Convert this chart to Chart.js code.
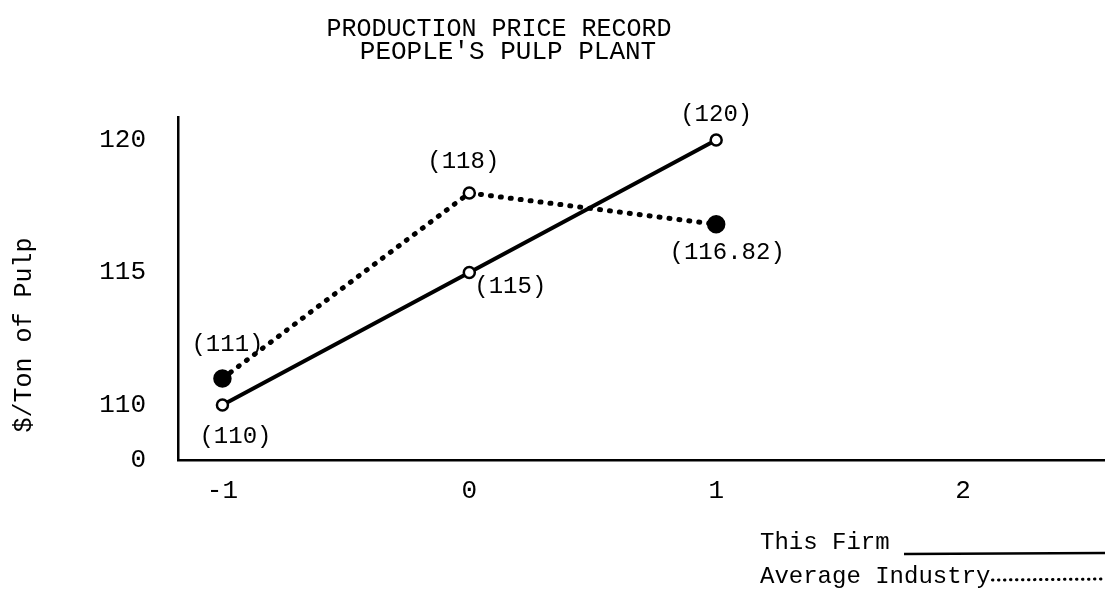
<!DOCTYPE html>
<html>
<head>
<meta charset="utf-8">
<script src="https://cdn.jsdelivr.net/npm/chart.js@4.4.1/dist/chart.umd.min.js"></script>
<style>
    html, body { margin: 0; padding: 0; background: #fff; }
    #wrap { width: 1105px; height: 604px; position: relative; }
</style>
</head>
<body>
<div id="wrap"><canvas id="chart" width="1105" height="604"></canvas></div>
<script>
// Data
const years = [-1, 0, 1];
const thisFirm = [110, 115, 120];
const avgIndustry = [111, 118, 116.82];
const firmLabels = ['(110)', '(115)', '(120)'];
const industryLabels = ['(111)', '(118)', '(116.82)'];
const xTicks = [-1, 0, 1, 2];
const yTicks = [110, 115, 120];
const yBreakLabel = '0';
const titleLines = ['PRODUCTION PRICE RECORD', "PEOPLE'S PULP PLANT"];
const yTitle = '$/Ton of Pulp';
const seriesNames = ['This Firm', 'Average Industry'];

// Axis ranges (the y axis is broken: bottom edge is labelled 0)
const Y_MIN = 107.92;
const Y_MAX = 120.87;
const X_MIN = -1.18;
const X_MAX = 2.575;

const FONT = '"Liberation Mono", "DejaVu Sans Mono", monospace';
const INK = '#000';

// where each value label sits relative to its point (dx, dy)
const firmLabelOffsets = [[13, 32], [41, 14], [0, -25]];
const industryLabelOffsets = [[5, -34], [-6, -31], [11, 28]];

function toPoints(values) {
    return years.map((x, i) => ({x: x, y: values[i]}));
}

const typewriterPlugin = {
    id: 'typewriter',
    afterDatasetsDraw(chart) {
        const ctx = chart.ctx;
        ctx.save();
        ctx.fillStyle = INK;
        ctx.font = `24px ${FONT}`;
        ctx.textAlign = 'center';
        ctx.textBaseline = 'middle';
        chart.data.datasets.forEach(function (ds, di) {
            let meta = chart.getDatasetMeta(di);
            meta.data.forEach(function (pt, i) {
                let off = ds.valueOffsets[i];
                ctx.fillText(ds.valueLabels[i], pt.x + off[0], pt.y + off[1]);
            });
        });
        ctx.restore();
    },
    afterDraw(chart) {
        const ctx = chart.ctx;
        ctx.save();
        ctx.fillStyle = INK;
        ctx.strokeStyle = INK;

        // title
        ctx.textAlign = 'center';
        ctx.textBaseline = 'middle';
        ctx.font = `25px ${FONT}`;
        ctx.fillText(titleLines[0], 499, 29);
        ctx.font = `26px ${FONT}`;
        ctx.fillText(titleLines[1], 508, 52);

        // y axis title
        ctx.save();
        ctx.translate(24, 335);
        ctx.rotate(-Math.PI / 2);
        ctx.font = `25px ${FONT}`;
        ctx.fillText(yTitle, 0, 0);
        ctx.restore();

        // legend, bottom right
        const ds = chart.data.datasets;
        ctx.font = `24px ${FONT}`;
        ctx.textAlign = 'left';
        ctx.fillText(ds[0].label, 760, 543);
        ctx.fillText(ds[1].label, 760, 577);
        let w0 = ctx.measureText(ds[0].label + ' ').width;
        let w1 = ctx.measureText(ds[1].label).width;

        ctx.lineWidth = 2.5;
        ctx.beginPath();
        ctx.moveTo(760 + w0, 554);
        ctx.lineTo(1105, 553);
        ctx.stroke();

        ctx.lineWidth = 3;
        ctx.lineCap = 'round';
        ctx.setLineDash([0.5, 5.5]);
        ctx.beginPath();
        ctx.moveTo(762 + w1, 580);
        ctx.lineTo(1105, 579);
        ctx.stroke();
        ctx.restore();
    }
};

const chart = new Chart(document.getElementById('chart'), {
    type: 'line',
    data: {
        datasets: [
            {
                label: seriesNames[0],
                data: toPoints(thisFirm),
                valueLabels: firmLabels,
                valueOffsets: firmLabelOffsets,
                borderColor: INK,
                borderWidth: 4,
                pointRadius: 5.5,
                pointBorderWidth: 2.5,
                pointBorderColor: INK,
                pointBackgroundColor: '#fff',
                tension: 0
            },
            {
                label: seriesNames[1],
                data: toPoints(avgIndustry),
                valueLabels: industryLabels,
                valueOffsets: industryLabelOffsets,
                borderColor: INK,
                borderWidth: 5,
                borderDash: [1, 9],
                borderCapStyle: 'round',
                pointRadius: [8, 5.5, 8],
                pointBorderWidth: 2.5,
                pointBorderColor: INK,
                pointBackgroundColor: [INK, '#fff', INK],
                tension: 0
            }
        ]
    },
    options: {
        responsive: false,
        animation: false,
        devicePixelRatio: 1,
        layout: {autoPadding: false, padding: {left: 0, top: 117, right: 0, bottom: 0}},
        plugins: {
            legend: {display: false},
            title: {display: false},
            tooltip: {enabled: false}
        },
        scales: {
            x: {
                type: 'linear',
                min: X_MIN,
                max: X_MAX,
                grid: {display: false, drawTicks: false},
                border: {display: true, color: INK, width: 2.5},
                afterBuildTicks: (scale) => {
                    scale.ticks = xTicks.map(v => ({value: v}));
                },
                afterFit: (scale) => {
                    scale.height = 144;
                    scale.paddingLeft = 0;
                    scale.paddingRight = 0;
                },
                ticks: {
                    autoSkip: false,
                    padding: 16,
                    color: INK,
                    font: {family: FONT, size: 26},
                    callback: (v) => String(v)
                }
            },
            y: {
                type: 'linear',
                min: Y_MIN,
                max: Y_MAX,
                grid: {display: false, drawTicks: false},
                border: {display: true, color: INK, width: 2.5},
                afterBuildTicks: (scale) => {
                    scale.ticks = [Y_MIN].concat(yTicks).map(v => ({value: v}));
                },
                afterFit: (scale) => {
                    scale.width = 178;
                    scale.paddingTop = 0;
                    scale.paddingBottom = 0;
                },
                ticks: {
                    autoSkip: false,
                    padding: 32,
                    color: INK,
                    font: {family: FONT, size: 26},
                    callback: (v) => v === Y_MIN ? yBreakLabel : String(v)
                }
            }
        }
    },
    plugins: [typewriterPlugin]
});
</script>
</body>
</html>
